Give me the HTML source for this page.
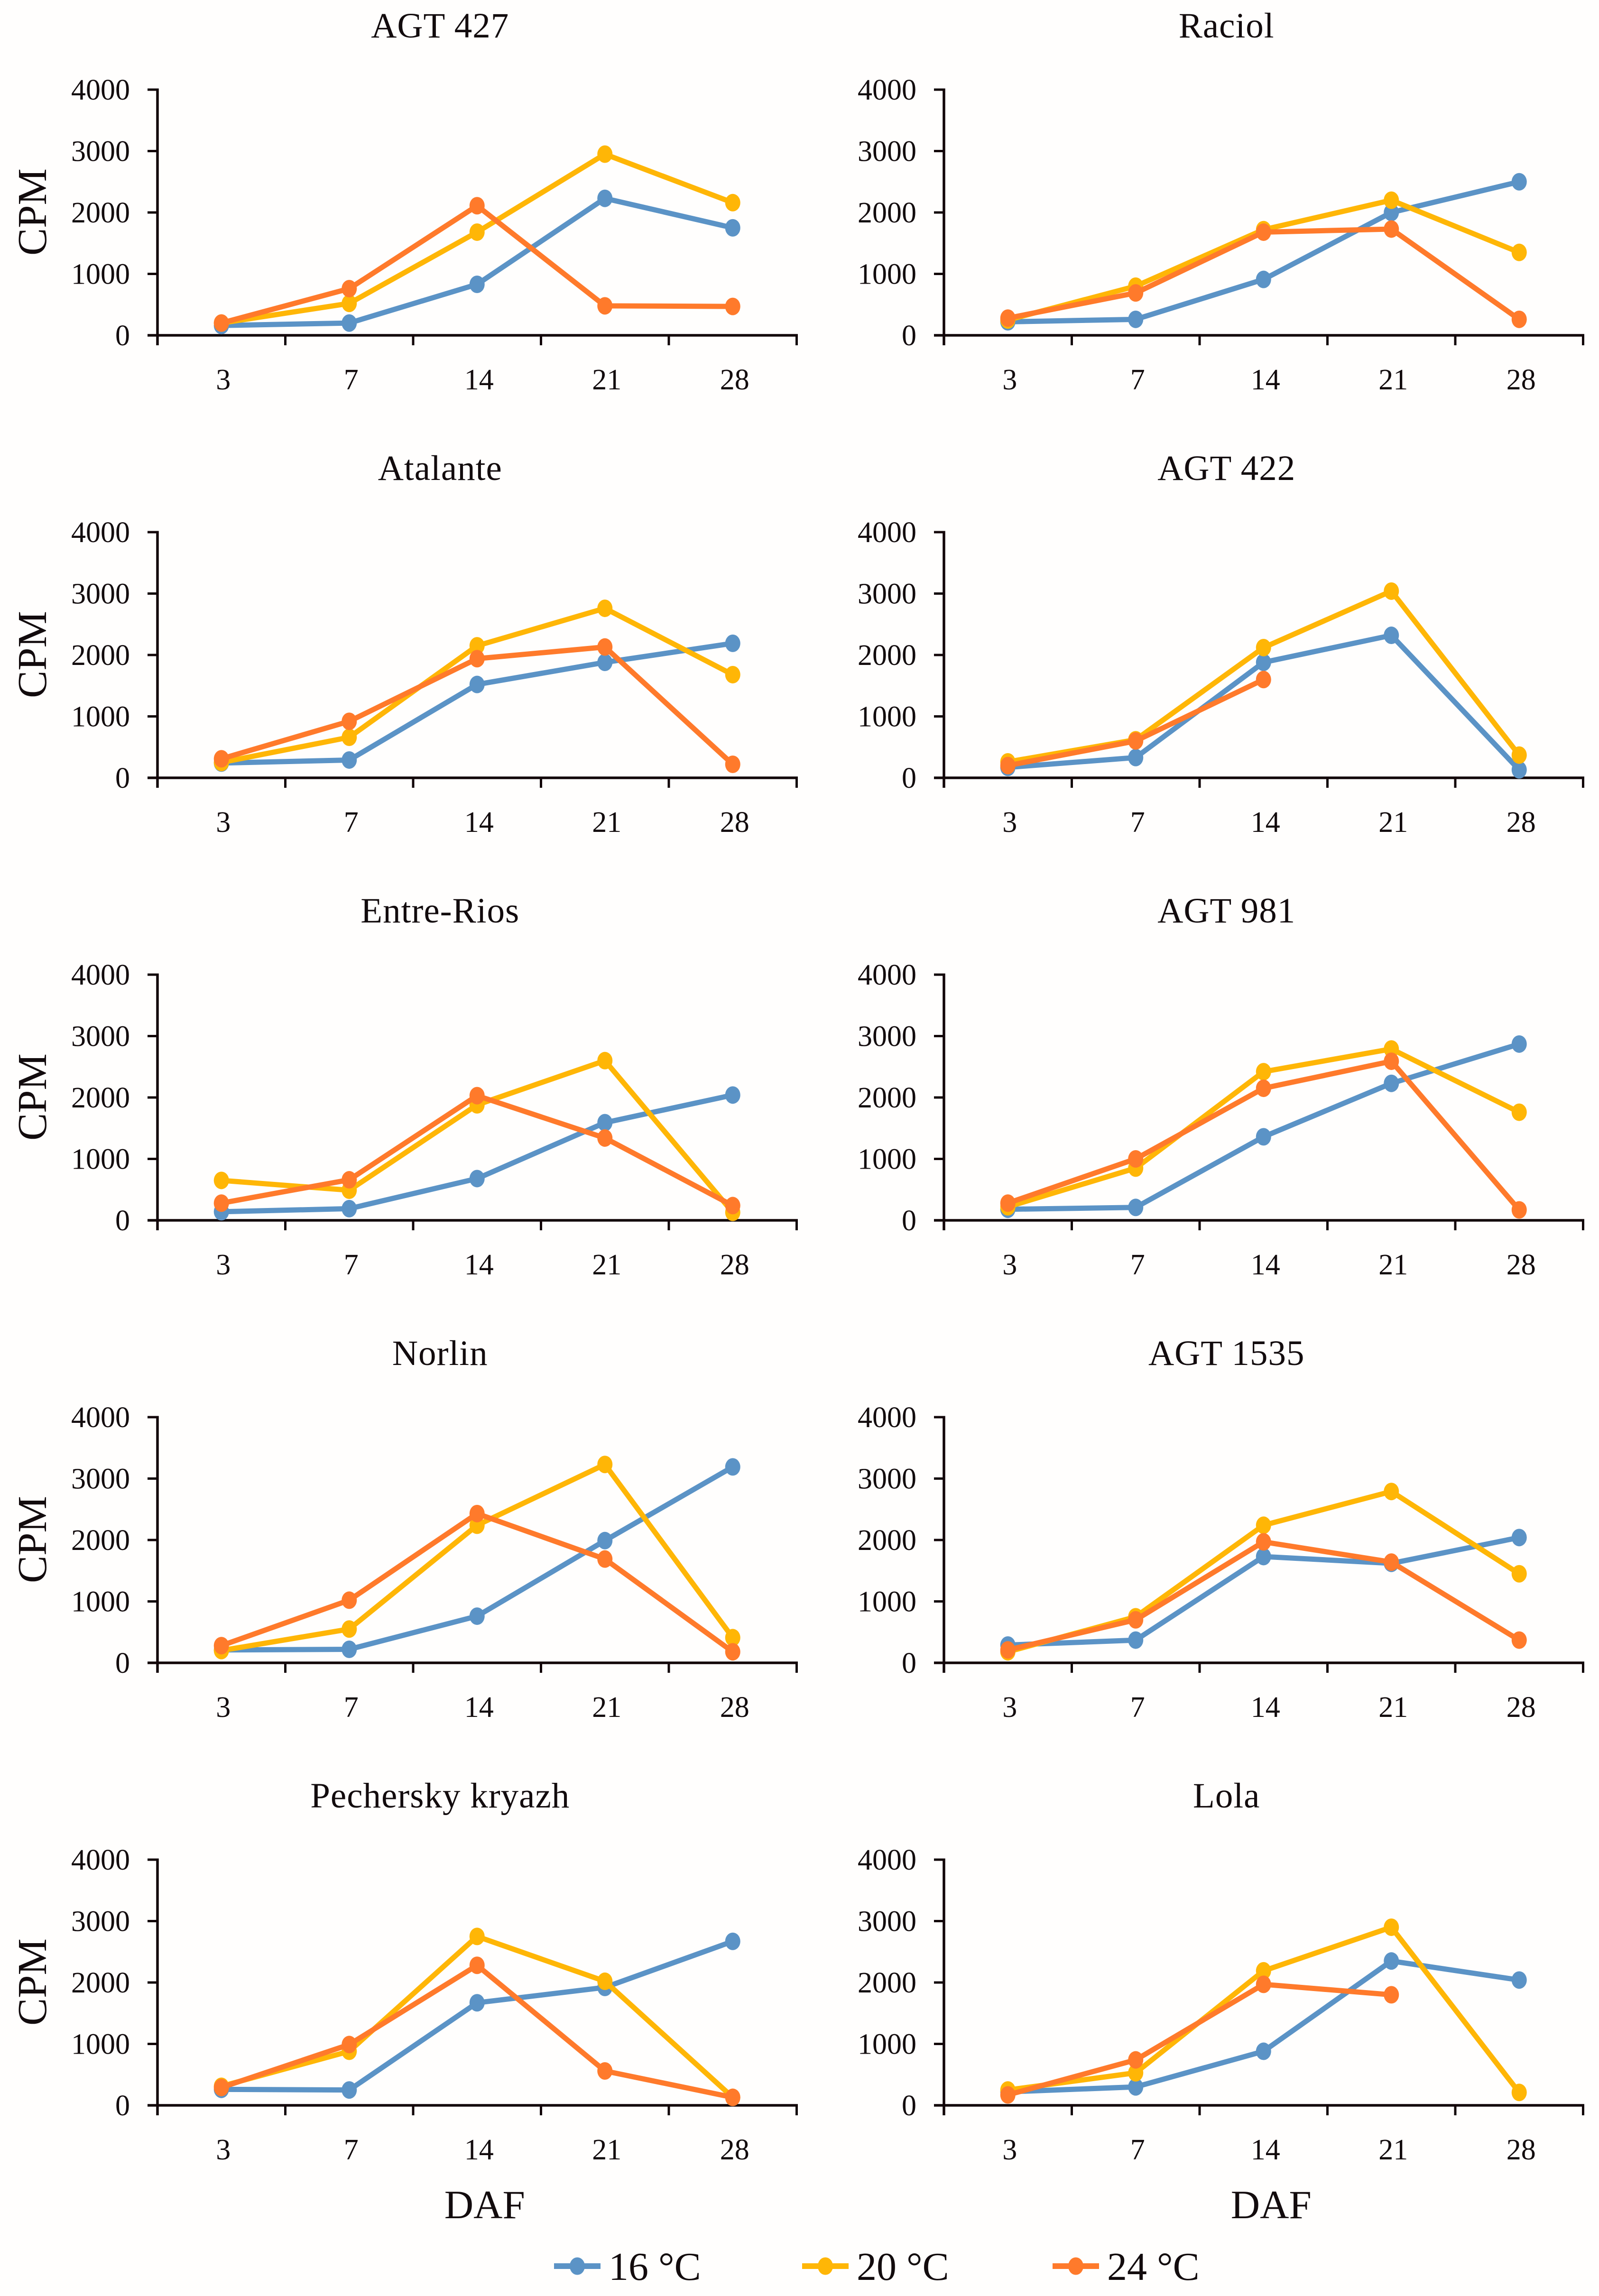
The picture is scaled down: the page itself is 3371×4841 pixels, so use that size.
<!DOCTYPE html>
<html lang="en">
<head>
<meta charset="utf-8">
<title>CPM by DAF panels</title>
<style>
html,body{margin:0;padding:0;background:#fffefd;}
svg{display:block;}
text{font-family:"Liberation Serif",serif;fill:#120b0d;}
</style>
</head>
<body>
<svg id="chart" xmlns="http://www.w3.org/2000/svg" width="3371" height="4841" viewBox="0 0 3371 4841">
<rect x="0" y="0" width="3371" height="4841" fill="#fffefd"/>
<g id="panels"></g>
<g id="legend"></g>
</svg>
<script>
const cultivars = ["AGT 427","Raciol","Atalante","AGT 422","Entre-Rios","AGT 981","Norlin","AGT 1535","Pechersky kryazh","Lola"];
const days = ["3","7","14","21","28"];
const yTicks = [0,1000,2000,3000,4000];
const seriesNames = ["16 °C","20 °C","24 °C"];
const seriesColors = ["#5b93c6","#ffb606","#ff7a2b"];

const temp16 = [
  [160,200,830,2230,1750],
  [220,260,910,2000,2500],
  [240,290,1520,1880,2190],
  [170,330,1880,2320,130],
  [140,190,680,1590,2040],
  [180,210,1360,2230,2870],
  [210,220,760,1990,3190],
  [290,370,1730,1620,2040],
  [260,250,1670,1920,2670],
  [220,300,880,2350,2040]
];
const temp20 = [
  [200,520,1680,2950,2160],
  [250,800,1720,2200,1350],
  [250,660,2150,2760,1680],
  [260,620,2120,3040,370],
  [650,490,1880,2600,130],
  [220,850,2420,2790,1760],
  [200,550,2240,3230,410],
  [180,750,2240,2790,1450],
  [310,880,2750,2020,130],
  [250,530,2190,2900,210]
];
const temp24 = [
  [200,760,2110,480,470],
  [280,690,1680,1730,260],
  [310,920,1940,2130,220],
  [200,600,1600,null,null],
  [280,660,2030,1340,240],
  [280,1000,2150,2590,170],
  [280,1020,2430,1690,180],
  [210,700,1970,1640,370],
  [290,990,2280,560,130],
  [170,740,1970,1800,null]
];
const allSeries = [temp16, temp20, temp24];

const NS = "http://www.w3.org/2000/svg";
const AXIS = "#120609";
const colLeft = [332, 1990];
const plotW = 1347.5;
const plotH = 518;
const firstY0 = 707;
const rowStep = 933;
const yMax = 4000;

function mk(tag, attrs, parent, txt) {
  const el = document.createElementNS(NS, tag);
  for (const k in attrs) el.setAttribute(k, attrs[k]);
  if (txt !== undefined) el.textContent = txt;
  parent.appendChild(el);
  return el;
}
function xScale(i, left) { return left + (i + 0.5) * plotW / days.length; }
function yScale(v, y0) { return y0 - v / yMax * plotH; }

const panelsRoot = document.getElementById('panels');

cultivars.forEach(function (name, p) {
  const col = p % 2, row = Math.floor(p / 2);
  const left = colLeft[col];
  const y0 = firstY0 + row * rowStep;
  const slug = name.toLowerCase().replace(/[^a-z0-9]+/g, '-');

  const g = mk('g', {}, panelsRoot);
  
  

  const title = mk('text', {x: left + plotW / 2 - 78, y: y0 - 628, 'font-size': 75, 'letter-spacing': 1, 'text-anchor': 'middle'}, g, name);
  
  

  const yAxis = mk('line', {x1: left, x2: left, y1: yScale(yMax, y0) - 2.5, y2: y0 + 21, stroke: AXIS, 'stroke-width': 5.5}, g);
  
  

  const xAxis = mk('line', {x1: left - 21, x2: left + plotW + 2.5, y1: y0, y2: y0, stroke: AXIS, 'stroke-width': 5.5}, g);
  
  

  yTicks.forEach(function (t) {
    const yy = yScale(t, y0);
    if (t !== 0) {
      const tick = mk('line', {x1: left - 21, x2: left, y1: yy, y2: yy, stroke: AXIS, 'stroke-width': 5}, g);
      
      
    }
    const lab = mk('text', {x: left - 58, y: yy + 21, 'font-size': 62, 'text-anchor': 'end'}, g, String(t));
    
    
  });

  for (let i = 1; i <= days.length; i++) {
    const xx = left + i * plotW / days.length;
    const tick = mk('line', {x1: xx, x2: xx, y1: y0, y2: y0 + 21, stroke: AXIS, 'stroke-width': 5}, g);
    
    
  }
  days.forEach(function (d, i) {
    const lab = mk('text', {x: xScale(i, left) + 4, y: y0 + 114, 'font-size': 62, 'text-anchor': 'middle'}, g, d);
    
    
  });

  if (col === 0) {
    const cx = 97, cy = y0 - 260;
    const yt = mk('text', {x: cx, y: cy, 'font-size': 87, 'text-anchor': 'middle', transform: 'rotate(-90 ' + cx + ' ' + cy + ')'}, g, 'CPM');
    
    
  }

  allSeries.forEach(function (series, s) {
    const vals = series[p];
    const pts = [];
    vals.forEach(function (v, i) {
      if (v !== null) pts.push([xScale(i, left), yScale(v, y0)]);
    });
    const sg = mk('g', {}, g);
    
    
    const line = mk('polyline', {points: pts.map(function (q) { return q.join(','); }).join(' '), fill: 'none', stroke: seriesColors[s], 'stroke-width': 11, 'stroke-linejoin': 'round'}, sg);
    
    
    pts.forEach(function (q) {
      const dot = mk('ellipse', {cx: q[0], cy: q[1], rx: 16, ry: 18.5, fill: seriesColors[s]}, sg);
      
      
    });
  });

  if (row === 4) {
    const xt = mk('text', {x: left + plotW / 2 + 16, y: y0 + 238, 'font-size': 85, 'text-anchor': 'middle'}, g, 'DAF');
    
    
  }
});

const legendRoot = document.getElementById('legend');
const legendStart = [1168, 1691, 2219];
seriesNames.forEach(function (n, s) {
  const x0 = legendStart[s];
  const yy = 4778;
  const g = mk('g', {}, legendRoot);
  
  
  const l = mk('line', {x1: x0, x2: x0 + 98, y1: yy, y2: yy, stroke: seriesColors[s], 'stroke-width': 12}, g);
  
  
  const c = mk('ellipse', {cx: x0 + 49, cy: yy, rx: 16, ry: 18.5, fill: seriesColors[s]}, g);
  
  
  const t = mk('text', {x: x0 + 115, y: yy + 29, 'font-size': 84}, g, n);
  
  
});
</script>
</body>
</html>
